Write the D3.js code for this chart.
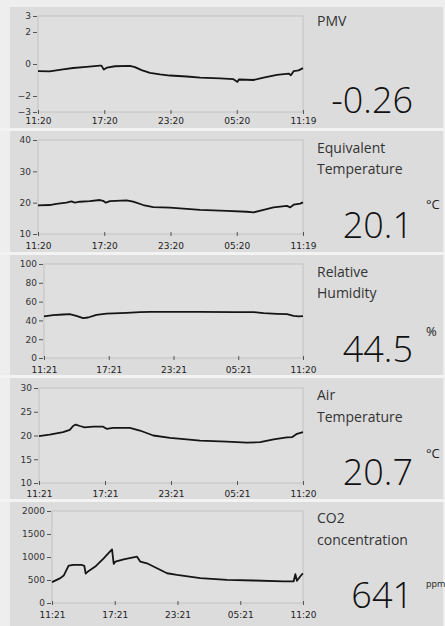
<!DOCTYPE html>
<html>
<head>
<meta charset="utf-8">
<script src="https://cdn.jsdelivr.net/npm/d3@7/dist/d3.min.js"></script>
<style>
  html, body { margin: 0; padding: 0; background: #eeeeee; }
  svg { display: block; }
</style>
</head>
<body>
<svg id="chart" width="445" height="626"></svg>
<script>
// ---- Data (hours since start, value) ----
const pmvHours   = [0,1.06,2.27,3.18,4.39,5.6,5.75,5.96,6.26,6.96,8.32,8.78,9.38,10.14,11.05,11.95,13.47,14.68,16.49,17.7,18.07,18.19,19.52,20.43,21.64,22.7,22.9,23.15,23.6,24];
const pmvValues  = [-0.44,-0.46,-0.33,-0.25,-0.18,-0.1,-0.1,-0.35,-0.22,-0.14,-0.12,-0.2,-0.38,-0.55,-0.65,-0.72,-0.78,-0.85,-0.9,-0.95,-1.12,-0.97,-1.0,-0.85,-0.68,-0.6,-0.7,-0.45,-0.4,-0.26];

const eqtHours   = [0,1.06,1.66,2.57,3.03,3.33,3.78,4.69,5.6,5.9,6.14,6.51,8.02,8.62,9.53,10.44,11.95,13.47,14.68,17.1,18.91,19.52,20.43,21.33,22.54,22.85,23.15,23.75,24];
const eqtValues  = [19.15,19.25,19.6,20.0,20.4,20.0,20.3,20.5,20.85,20.6,20.0,20.5,20.75,20.3,19.25,18.6,18.4,18.0,17.7,17.35,17.1,16.9,17.7,18.5,18.95,18.5,19.35,19.7,20.1];

const rhHours    = [0,0.84,1.77,2.38,3.0,3.62,4.09,4.86,5.79,7.65,8.89,9.82,11.37,14.46,17.56,19.42,20.35,21.59,22.52,23.13,23.6,24];
const rhValues   = [44.2,45.6,46.3,46.6,44.9,42.4,43.1,45.9,47.3,48.1,48.8,49.1,49.1,49.1,48.8,48.8,47.7,47.0,46.6,44.9,44.2,44.5];

const airHours   = [0,0.97,2.19,2.8,3.1,3.34,3.71,4.16,4.92,5.83,6.14,6.74,8.26,9.17,10.39,11.91,13.43,14.64,17.07,18.9,20.11,21.33,22.54,23.0,23.45,24];
const airValues  = [19.86,20.2,20.7,21.2,22.0,22.3,22.0,21.7,21.85,21.85,21.4,21.6,21.6,21.05,20.0,19.5,19.2,18.9,18.7,18.5,18.6,19.2,19.6,19.65,20.35,20.7];

const co2Hours   = [0,0.8,1.12,1.59,2.07,2.87,3.09,3.22,3.51,4.14,4.94,5.58,5.74,5.9,6.06,6.85,8.13,8.45,9.08,10.04,11.0,11.95,14.18,16.73,19.28,22.15,23.1,23.27,23.42,23.9,24];
const co2Values  = [453,540,597,813,827,827,806,640,698,791,971,1129,1165,849,899,950,1007,899,863,755,647,611,540,504,489,468,468,626,482,626,641];

// ---- Tick labels ----
const pmvYTicks = [3,2,0,-2,-3];
const eqtYTicks = [40,30,20,10];
const rhYTicks  = [100,80,60,40,20,0];
const airYTicks = [30,25,20,15,10];
const co2YTicks = [2000,1500,1000,500,0];
const xTicksA = ["11:20","17:20","23:20","05:20","11:19"];
const xTicksB = ["11:21","17:21","23:21","05:21","11:20"];

// ---- Titles / readings ----
const titles   = [["PMV"],["Equivalent","Temperature"],["Relative","Humidity"],["Air","Temperature"],["CO2","concentration"]];
const readings = ["-0.26","20.1","44.5","20.7","641"];
const units    = ["","\u00B0C","%","\u00B0C","ppm"];

// ---- Layout ----
const panels = [
  {h: pmvHours, v: pmvValues, yd: [-3,3],    yt: pmvYTicks, xt: xTicksA, top: 7,   bot: 128, pl: 38, pt: 16,  pb: 112, xl: 124, ty: [26],      ny: 113, uy: 0,   us: 13},
  {h: eqtHours, v: eqtValues, yd: [10,40],   yt: eqtYTicks, xt: xTicksA, top: 131, bot: 252, pl: 38, pt: 140, pb: 234, xl: 249, ty: [153,174], ny: 238, uy: 209, us: 13},
  {h: rhHours,  v: rhValues,  yd: [0,100],   yt: rhYTicks,  xt: xTicksB, top: 255, bot: 375, pl: 44, pt: 264, pb: 358, xl: 373, ty: [277,298], ny: 362, uy: 336, us: 13},
  {h: airHours, v: airValues, yd: [10,30],   yt: airYTicks, xt: xTicksB, top: 378, bot: 499, pl: 39, pt: 388, pb: 483, xl: 497, ty: [400,422], ny: 485, uy: 458, us: 13},
  {h: co2Hours, v: co2Values, yd: [0,2000],  yt: co2YTicks, xt: xTicksB, top: 502, bot: 626, pl: 52, pt: 511, pb: 603, xl: 618, ty: [523,545], ny: 608, uy: 587, us: 9}
];
const plotRight = 303;

const svg = d3.select("#chart");

panels.forEach((p, i) => {
  const g = svg.append("g");
  g.append("rect").attr("x", 10).attr("y", p.top).attr("width", 433).attr("height", p.bot - p.top)
    .attr("fill", "#dcdcdc");

  const x = d3.scaleLinear().domain([0, 24]).range([p.pl, plotRight]);
  const y = d3.scaleLinear().domain(p.yd).range([p.pb, p.pt]);

  g.append("rect").attr("x", p.pl).attr("y", p.pt).attr("width", plotRight - p.pl).attr("height", p.pb - p.pt)
    .attr("fill", "#dfdfdf").attr("stroke", "#c2c2c2").attr("stroke-width", 1);

  // y axis
  const yAxis = d3.axisLeft(y).tickValues(p.yt).tickSize(4).tickPadding(2).tickFormat(d3.format("d"));
  const ya = g.append("g").attr("transform", `translate(${p.pl - 1},0)`).call(yAxis);
  ya.select(".domain").remove();
  ya.selectAll(".tick line").attr("stroke", "#555");
  ya.selectAll("text").attr("font-family", "DejaVu Sans").attr("font-size", 9).attr("fill", "#333");

  // x axis
  const xs = d3.scalePoint().domain(p.xt).range([p.pl, plotRight]);
  const xAxis = d3.axisBottom(xs).tickSize(4).tickPadding(1);
  const xa = g.append("g").attr("transform", `translate(0,${p.pb - 2})`).call(xAxis);
  xa.select(".domain").remove();
  xa.selectAll(".tick line").attr("stroke", "#555");
  xa.selectAll("text").attr("font-family", "DejaVu Sans").attr("font-size", 9).attr("fill", "#222")
    .attr("dy", null).attr("y", p.xl - p.pb + 2);

  // line
  const data = p.h.map((t, k) => [t, p.v[k]]);
  g.append("path").datum(data)
    .attr("fill", "none").attr("stroke", "#151515").attr("stroke-width", 1.8).attr("stroke-linejoin", "round")
    .attr("d", d3.line().x(d => x(d[0])).y(d => y(d[1])));

  // titles
  titles[i].forEach((t, k) => {
    g.append("text").attr("x", 317).attr("y", p.ty[k]).text(t)
      .attr("font-family", "Open Sans").attr("font-size", 14).attr("fill", "#333");
  });
  g.append("text").attr("x", 413).attr("y", p.ny).attr("text-anchor", "end").text(readings[i])
    .attr("font-family", "Open Sans").attr("font-weight", 300).attr("font-size", 36).attr("fill", "#111");
  if (units[i]) {
    g.append("text").attr("x", 426).attr("y", p.uy).text(units[i])
      .attr("font-family", "Open Sans").attr("font-size", p.us).attr("fill", "#222");
  }
});

// separators
panels.slice(1).forEach(p => {
  svg.append("rect").attr("x", 0).attr("y", p.top - 3).attr("width", 445).attr("height", 3).attr("fill", "#f3f3f3");
});
</script>
</body>
</html>
